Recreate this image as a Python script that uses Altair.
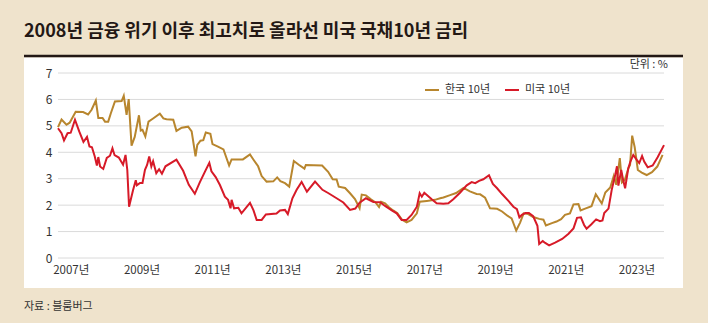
import altair as alt
import pandas as pd

TITLE = "2008년 금융 위기 이후 최고치로 올라선 미국 국채10년 금리"
UNIT = "단위 : %"
SOURCE = "자료 : 블룸버그"
SERIES = ["한국 10년", "미국 10년"]
COLORS = ["#B8862E", "#D71A28"]
Y_TICKS = [0, 1, 2, 3, 4, 5, 6, 7]
X_TICKS = [2007, 2009, 2011, 2013, 2015, 2017, 2019, 2021, 2023]
X_DOMAIN = [2006.64, 2023.78]

kr_t = [2006.64, 2006.74, 2006.88, 2006.97, 2007.14, 2007.35, 2007.49, 2007.59, 2007.71, 2007.78,
        2007.90, 2007.97, 2008.06, 2008.13, 2008.25, 2008.44, 2008.50, 2008.58, 2008.64, 2008.72,
        2008.81, 2008.93, 2008.98, 2009.03, 2009.11, 2009.20, 2009.33, 2009.52, 2009.62, 2009.71,
        2009.90, 2009.99, 2010.14, 2010.32, 2010.42, 2010.53, 2010.58, 2010.67, 2010.75, 2010.82,
        2010.95, 2011.01, 2011.15, 2011.32, 2011.48, 2011.55, 2011.87, 2012.07, 2012.17, 2012.30,
        2012.40, 2012.54, 2012.73, 2012.84, 2012.93, 2013.06, 2013.18, 2013.31, 2013.45, 2013.61,
        2013.65, 2014.11, 2014.28, 2014.41, 2014.52, 2014.58, 2014.76, 2014.90, 2015.04, 2015.17,
        2015.23, 2015.35, 2015.49, 2015.62, 2015.72, 2015.78, 2015.89, 2016.00, 2016.12, 2016.24,
        2016.36, 2016.50, 2016.64, 2016.79, 2016.87, 2017.07, 2017.30, 2017.45, 2017.54, 2017.73,
        2017.90, 2018.11, 2018.29, 2018.48, 2018.58, 2018.72, 2018.86, 2019.06, 2019.20, 2019.35,
        2019.47, 2019.60, 2019.71, 2019.81, 2019.94, 2020.08, 2020.25, 2020.37, 2020.44, 2020.61,
        2020.74, 2020.87, 2020.98, 2021.12, 2021.22, 2021.36, 2021.42, 2021.55, 2021.73, 2021.85,
        2022.02, 2022.12, 2022.26, 2022.36, 2022.43, 2022.53, 2022.59, 2022.67, 2022.77, 2022.82,
        2022.88, 2022.95, 2023.04, 2023.15, 2023.29, 2023.44, 2023.59, 2023.74]
kr_v = [4.95, 5.24, 5.04, 5.12, 5.53, 5.52, 5.43, 5.61, 5.96, 5.30,
        5.30, 5.16, 5.16, 5.46, 5.92, 5.94, 6.14, 5.42, 6.01, 4.25,
        4.58, 5.40, 4.82, 4.85, 4.60, 5.16, 5.28, 5.46, 5.28, 5.25,
        5.23, 4.81, 4.93, 4.97, 4.79, 3.85, 4.28, 4.44, 4.46, 4.75,
        4.70, 4.31, 4.22, 4.11, 3.50, 3.73, 3.73, 3.92, 3.72, 3.47,
        3.10, 2.89, 2.90, 3.05, 2.91, 2.83, 2.70, 3.67, 3.53, 3.38,
        3.52, 3.50, 3.26, 2.98, 2.97, 2.70, 2.65, 2.45, 2.23, 1.88,
        2.40, 2.37, 2.22, 2.10, 1.93, 2.13, 2.07, 1.92, 1.80, 1.69,
        1.46, 1.35, 1.44, 1.69, 2.13, 2.16, 2.20, 2.26, 2.29, 2.38,
        2.46, 2.65, 2.52, 2.42, 2.41, 2.28, 1.88, 1.86, 1.76, 1.60,
        1.50, 1.04, 1.34, 1.69, 1.66, 1.55, 1.48, 1.45, 1.23, 1.32,
        1.38, 1.47, 1.63, 1.69, 2.03, 2.04, 1.80, 1.87, 1.96, 2.41,
        2.06, 2.48, 2.67, 3.11, 2.77, 3.78, 2.86, 2.95, 3.38, 3.52,
        4.63, 4.20, 3.33, 3.23, 3.14, 3.25, 3.46, 3.90]

us_t = [2006.64, 2006.74, 2006.81, 2006.91, 2007.00, 2007.12, 2007.24, 2007.36, 2007.46, 2007.53,
        2007.60, 2007.68, 2007.74, 2007.78, 2007.83, 2007.92, 2008.02, 2008.11, 2008.18, 2008.24,
        2008.36, 2008.48, 2008.55, 2008.60, 2008.65, 2008.76, 2008.84, 2008.87, 2008.96, 2009.03,
        2009.10, 2009.16, 2009.22, 2009.28, 2009.33, 2009.42, 2009.50, 2009.58, 2009.68, 2009.99,
        2010.18, 2010.34, 2010.51, 2010.65, 2010.80, 2010.92, 2010.98, 2011.10, 2011.22, 2011.36,
        2011.45, 2011.52, 2011.55, 2011.62, 2011.74, 2011.83, 2012.07, 2012.17, 2012.26, 2012.40,
        2012.52, 2012.82, 2012.92, 2013.06, 2013.14, 2013.27, 2013.39, 2013.53, 2013.68, 2013.91,
        2014.12, 2014.28, 2014.52, 2014.71, 2014.90, 2015.05, 2015.17, 2015.35, 2015.56, 2015.75,
        2015.89, 2016.08, 2016.22, 2016.36, 2016.50, 2016.64, 2016.79, 2016.87, 2016.93, 2017.00,
        2017.21, 2017.35, 2017.54, 2017.68, 2017.82, 2018.01, 2018.20, 2018.34, 2018.44, 2018.55,
        2018.67, 2018.83, 2018.94, 2019.06, 2019.20, 2019.38, 2019.52, 2019.62, 2019.69, 2019.76,
        2019.86, 2019.96, 2020.08, 2020.20, 2020.25, 2020.35, 2020.42, 2020.53, 2020.70, 2020.90,
        2021.08, 2021.22, 2021.32, 2021.43, 2021.52, 2021.59, 2021.72, 2021.86, 2021.97, 2022.04,
        2022.09, 2022.21, 2022.30, 2022.40, 2022.45, 2022.49, 2022.57, 2022.63, 2022.68, 2022.77,
        2022.83, 2022.91, 2023.01, 2023.08, 2023.16, 2023.22, 2023.32, 2023.46, 2023.60, 2023.78]
us_v = [4.91, 4.72, 4.45, 4.72, 4.74, 5.23, 4.79, 4.39, 4.58, 4.22,
        4.19, 3.84, 3.50, 3.82, 3.46, 3.37, 3.79, 3.87, 4.15, 3.89,
        3.80, 3.53, 3.90, 3.33, 1.94, 2.55, 2.94, 2.75, 2.84, 2.84,
        3.34, 3.52, 3.84, 3.46, 3.66, 3.21, 3.36, 3.19, 3.47, 3.72,
        3.30, 2.77, 2.43, 2.86, 3.28, 3.60, 3.28, 3.06, 2.76, 2.32,
        2.20, 1.88, 2.20, 1.88, 1.90, 1.69, 2.09, 1.80, 1.44, 1.44,
        1.65, 1.68, 1.80, 1.82, 1.66, 2.26, 2.58, 2.88, 2.51, 2.89,
        2.58, 2.46, 2.26, 2.10, 1.82, 1.87, 2.09, 2.26, 2.12, 2.11,
        1.97, 1.80, 1.69, 1.44, 1.44, 1.63, 1.94, 2.45, 2.32, 2.47,
        2.22, 2.07, 2.05, 2.07, 2.22, 2.47, 2.75, 2.87, 2.83, 2.92,
        2.98, 3.13, 2.80, 2.64, 2.42, 2.16, 1.94, 1.85, 1.54, 1.63,
        1.70, 1.70, 1.58, 1.22, 0.53, 0.64, 0.57, 0.48, 0.58, 0.72,
        0.92, 1.12, 1.52, 1.54, 1.25, 1.11, 1.27, 1.46, 1.39, 1.42,
        1.70, 1.87, 2.57, 3.14, 3.47, 2.74, 3.33, 2.92, 2.64, 3.40,
        3.65, 3.90, 3.71, 3.59, 3.86, 3.65, 3.43, 3.50, 3.81, 4.27]

FONT = "Noto Sans CJK KR"
BG = "#EFE3CC"
INK = "#231815"

lines_df = pd.concat([
    pd.DataFrame({"t": kr_t, "v": kr_v, "series": SERIES[0]}),
    pd.DataFrame({"t": us_t, "v": us_v, "series": SERIES[1]}),
], ignore_index=True)
grid_df = pd.DataFrame({"v": Y_TICKS})
one = pd.DataFrame({"k": [0]})

W, H = 606, 185

xscale = alt.Scale(domain=X_DOMAIN, nice=False, zero=False)
yscale = alt.Scale(domain=[0, 7], nice=False, zero=False)

x_axis = alt.Axis(
    values=X_TICKS, labelExpr="datum.value + '년'", grid=False, ticks=False,
    domain=False, labelPadding=6, labelFont=FONT, labelFontSize=11.5,
    labelColor="#333333", labelOverlap=False, labelFlush=False, title=None, zindex=1)
y_axis = alt.Axis(
    values=Y_TICKS, grid=False, ticks=False, domain=False, labelPadding=6,
    labelFont=FONT, labelFontSize=12, labelColor="#333333", title=None, zindex=1)

panel = alt.Chart(one).mark_rect(color="white").encode(
    x=alt.value(-34), x2=alt.value(625), y=alt.value(-15.5), y2=alt.value(215)
)
title_rule = alt.Chart(one).mark_rule(color=INK, strokeWidth=2.5).encode(
    x=alt.value(-34), x2=alt.value(625), y=alt.value(-17)
)
title = alt.Chart(one).mark_text(
    text=TITLE, font=FONT, fontSize=18, fontWeight="bold", color=INK,
    align="left", baseline="middle"
).encode(x=alt.value(-34), y=alt.value(-41))
unit = alt.Chart(one).mark_text(
    text=UNIT, font=FONT, fontSize=11, color="#333333", align="right", baseline="middle"
).encode(x=alt.value(610), y=alt.value(-8))
source = alt.Chart(one).mark_text(
    text=SOURCE, font=FONT, fontSize=11, color="#333333", align="left", baseline="middle"
).encode(x=alt.value(-34), y=alt.value(234))

grid = alt.Chart(grid_df).mark_rule(color="#DADADA", strokeWidth=1).encode(
    y=alt.Y("v:Q", scale=yscale, axis=y_axis)
)

lines = alt.Chart(lines_df).mark_line(strokeWidth=2, strokeJoin="miter").encode(
    x=alt.X("t:Q", scale=xscale, axis=x_axis),
    y=alt.Y("v:Q", scale=yscale, axis=y_axis),
    color=alt.Color("series:N", scale=alt.Scale(domain=SERIES, range=COLORS),
                    legend=alt.Legend(
                        title=None, orient="none", legendX=366, legendY=9,
                        direction="horizontal", symbolType="stroke",
                        symbolSize=196, symbolStrokeWidth=2, labelFont=FONT,
                        labelFontSize=11, labelColor="#333333", labelOffset=5,
                        columnPadding=10)),
    order=alt.Order("t:Q"),
)

chart = alt.layer(panel, title_rule, title, unit, source, grid, lines).properties(
    width=W, height=H,
    autosize=alt.AutoSizeParams(type="none"),
    padding={"left": 58, "top": 73, "right": 44, "bottom": 65},
    background=BG,
).configure_view(stroke=None)

chart.save("out.html", embed_options={"renderer": "svg", "actions": False})
